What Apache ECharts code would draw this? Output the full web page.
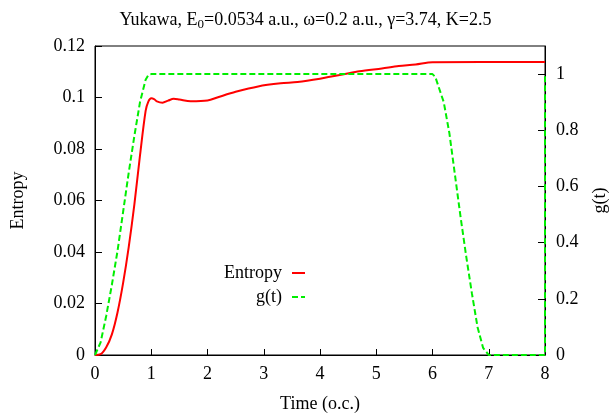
<!DOCTYPE html>
<html>
<head>
<meta charset="utf-8">
<script src="https://cdn.jsdelivr.net/npm/echarts@6/dist/echarts.min.js"></script>
<style>
  html, body { margin: 0; padding: 0; background: #fff; }
  #chart { width: 611px; height: 420px; }
</style>
</head>
<body>
<div id="chart"></div>
<script>
// entropy vs time (o.c.)
const entropyTime = [0, 0.1, 0.2, 0.3, 0.4, 0.5, 0.6, 0.7, 0.8, 0.9, 0.95, 1.0, 1.05, 1.1, 1.2, 1.3, 1.4, 1.5, 1.7, 2.0, 2.2, 2.5, 2.9, 3.3, 3.6, 4.0, 4.4, 4.7, 5.1, 5.4, 5.7, 6.0, 8.0];
const entropyValues = [0, 0.0003, 0.003, 0.008, 0.0165, 0.028, 0.042, 0.0585, 0.0775, 0.0948, 0.0985, 0.0997, 0.0994, 0.0985, 0.098, 0.0988, 0.0995, 0.0992, 0.0985, 0.0988, 0.1002, 0.1022, 0.1043, 0.1055, 0.106, 0.1073, 0.1089, 0.1102, 0.1113, 0.1122, 0.1128, 0.1137, 0.1138];

// envelope g(t)
const gTime = [0, 0.1, 0.2, 0.3, 0.4, 0.5, 0.6, 0.7, 0.8, 0.9, 0.95, 1.0, 6.0, 6.05, 6.1, 6.2, 6.3, 6.4, 6.5, 6.6, 6.7, 6.8, 6.9, 7.0, 8.0, 8.0];
const gValues = [0, 0.045, 0.14, 0.25, 0.37, 0.51, 0.65, 0.78, 0.9, 0.98, 0.997, 1, 1, 0.99, 0.96, 0.9, 0.79, 0.64, 0.49, 0.35, 0.22, 0.1, 0.025, 0, 0, 1];

const FONT = 'Liberation Serif';

const chart = echarts.init(document.getElementById('chart'));

const legendBase = {
  right: 305,
  align: 'right',
  padding: 0,
  itemWidth: 13,
  itemHeight: 10,
  itemStyle: { opacity: 0 },
  textStyle: { fontFamily: FONT, fontSize: 18, color: '#000', padding: [0, 5, 0, 0] }
};

chart.setOption({
  animation: false,
  backgroundColor: '#fff',
  title: {
    text: 'Yukawa, E{sub|0}=0.0534 a.u., ω=0.2 a.u., γ=3.74, K=2.5',
    left: 'center',
    top: 4,
    textStyle: {
      fontFamily: FONT,
      fontSize: 18,
      fontWeight: 'normal',
      color: '#000',
      rich: {
        sub: { fontFamily: FONT, fontSize: 13, padding: [9, 0, 0, 0], color: '#000' }
      }
    }
  },
  grid: {
    left: 95,
    right: 66,
    top: 46,
    bottom: 65,
    outerBoundsMode: 'none',
    show: true,
    borderColor: '#000',
    borderWidth: 1
  },
  legend: [
    Object.assign({}, legendBase, { data: ['Entropy'], top: 264 }),
    Object.assign({}, legendBase, { data: ['g(t)'], top: 288 })
  ],
  xAxis: {
    type: 'value',
    min: 0,
    max: 8,
    interval: 1,
    name: 'Time (o.c.)',
    nameLocation: 'middle',
    nameGap: 40,
    nameTextStyle: { fontFamily: FONT, fontSize: 18, color: '#000' },
    axisLine: { lineStyle: { color: '#000', width: 1 } },
    axisTick: { inside: true, length: 6, lineStyle: { color: '#000' } },
    axisLabel: { fontFamily: FONT, fontSize: 18, color: '#000', margin: 10 },
    splitLine: { show: false }
  },
  yAxis: [
    {
      type: 'value',
      min: 0,
      max: 0.12,
      interval: 0.02,
      name: 'Entropy',
      nameLocation: 'middle',
      nameRotate: 90,
      nameGap: 68,
      nameTextStyle: { fontFamily: FONT, fontSize: 18, color: '#000' },
      axisLine: { show: true, lineStyle: { color: '#000', width: 1 } },
      axisTick: { inside: true, length: 7, lineStyle: { color: '#000' } },
      axisLabel: { fontFamily: FONT, fontSize: 18, color: '#000', margin: 10 },
      splitLine: { show: false }
    },
    {
      type: 'value',
      position: 'right',
      min: 0,
      max: 1.1,
      interval: 0.2,
      name: 'g(t)',
      nameLocation: 'middle',
      nameRotate: 90,
      nameGap: 46,
      nameTextStyle: { fontFamily: FONT, fontSize: 18, color: '#000' },
      axisLine: { show: true, lineStyle: { color: '#000', width: 1 } },
      axisTick: { inside: true, length: 7, lineStyle: { color: '#000' } },
      axisLabel: { fontFamily: FONT, fontSize: 18, color: '#000', margin: 11, showMaxLabel: false },
      splitLine: { show: false }
    }
  ],
  series: [
    {
      name: 'Entropy',
      type: 'line',
      yAxisIndex: 0,
      data: entropyTime.map((t, i) => [t, entropyValues[i]]),
      showSymbol: false,
      symbol: 'none',
      smooth: 0.3,
      color: '#ff0000',
      lineStyle: { color: '#ff0000', width: 2 }
    },
    {
      name: 'g(t)',
      type: 'line',
      yAxisIndex: 1,
      data: gTime.map((t, i) => [t, gValues[i]]),
      showSymbol: false,
      symbol: 'none',
      color: '#00ee00',
      lineStyle: { color: '#00ee00', width: 2, type: [6, 3] }
    }
  ]
});
</script>
</body>
</html>
